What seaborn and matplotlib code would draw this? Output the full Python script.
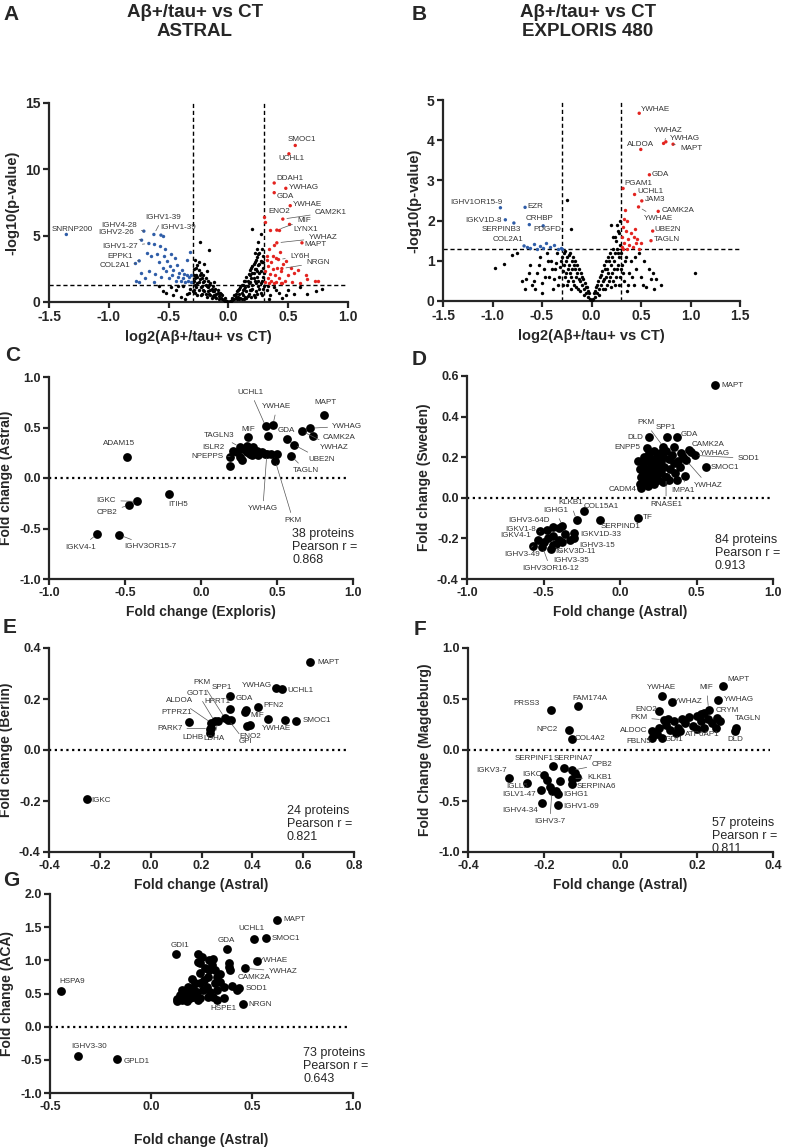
import seaborn as sns
import matplotlib.pyplot as plt
from matplotlib.ticker import FormatStrFormatter

# ---------------- A: volcano Astral ----------------
a_ns_x = [0.02, 0.03, 0.04, 0.05, 0.06, 0.07, 0.08, 0.08, 0.09, 0.10, 0.10, 0.11, 0.12, 0.12, 0.13, 0.14, 0.14, 0.15,
          0.15, 0.16, 0.17, 0.17, 0.18, 0.18, 0.19, 0.19, 0.20, 0.20, 0.21, 0.21, 0.22, 0.22, 0.23, 0.23, 0.24, 0.24,
          0.25, 0.25, 0.26, 0.26, 0.27, 0.27, 0.28, 0.28, 0.29, 0.29, 0.20, 0.25, 0.27, 0.29,
          0.01, 0.03, 0.05, 0.06, 0.07, 0.09, 0.09, 0.11, 0.11, 0.12, 0.13, 0.13, 0.14, 0.15, 0.16, 0.16, 0.17,
          0.18, 0.18, 0.19, 0.19, 0.20, 0.20, 0.21, 0.21, 0.22, 0.22, 0.23, 0.23, 0.24, 0.24, 0.25, 0.25, 0.26,
          0.26, 0.27, 0.27, 0.28, 0.28, 0.29, 0.29, 0.30, 0.30, 0.24, 0.22,
          0.32, 0.35, 0.38, 0.42, 0.45, 0.50, 0.55, 0.66, 0.73, 0.78, 0.60, 0.34, 0.33, 0.40, 0.48,
          -0.02, -0.03, -0.04, -0.05, -0.06, -0.07, -0.08, -0.09, -0.10, -0.10, -0.11, -0.12, -0.13, -0.13, -0.14,
          -0.15, -0.15, -0.16, -0.17, -0.17, -0.18, -0.19, -0.19, -0.20, -0.21, -0.21, -0.22, -0.23, -0.23, -0.24,
          -0.24, -0.25, -0.25, -0.26, -0.26, -0.27, -0.28, -0.28, -0.29, -0.29, -0.16, -0.20,
          -0.01, -0.03, -0.05, -0.06, -0.08, -0.09, -0.11, -0.12, -0.13, -0.14, -0.15, -0.16, -0.17, -0.18,
          -0.19, -0.20, -0.21, -0.22, -0.22, -0.23, -0.24, -0.25, -0.26, -0.26, -0.27, -0.27, -0.28, -0.28,
          -0.29, -0.29, -0.30, -0.30, -0.18, -0.25, -0.12,
          -0.32, -0.35, -0.38, -0.40, -0.44, -0.48, -0.52, -0.55, -0.36, -0.58, -0.33, -0.42, -0.46]
a_ns_y = [0.1, 0.3, 0.2, 0.5, 0.35, 0.8, 0.4, 0.9, 0.6, 1.1, 0.3, 0.7, 1.3, 0.5, 1.0, 1.6, 0.4, 0.8,
          1.9, 1.2, 2.1, 0.6, 1.5, 2.4, 0.9, 1.8, 2.7, 1.3, 0.5, 2.2, 3.0, 1.6, 2.5, 0.8, 3.4, 1.9,
          2.8, 1.2, 3.7, 2.2, 0.7, 3.1, 4.0, 1.6, 2.6, 3.5, 5.5, 4.5, 5.1, 1.0,
          0.05, 0.12, 0.2, 0.6, 0.25, 0.2, 1.0, 0.2, 1.3, 0.9, 0.25, 1.6, 1.1, 0.3, 1.6, 0.45, 1.4,
          0.9, 2.0, 0.35, 2.6, 1.0, 2.2, 1.8, 2.9, 0.4, 2.5, 1.4, 3.2, 0.6, 2.3, 1.6, 3.6, 1.0,
          2.9, 2.3, 1.4, 3.0, 0.5, 1.9, 3.0, 2.2, 1.2, 4.0, 3.7,
          0.9, 0.5, 1.1, 0.7, 0.3, 0.9, 0.6, 0.63, 0.8, 1.0, 1.1, 0.2, 1.2, 0.9, 0.5,
          0.1, 0.3, 0.15, 0.5, 0.3, 0.7, 0.45, 0.9, 0.3, 0.6, 1.0, 0.5, 1.2, 0.8, 0.3,
          1.4, 0.9, 0.6, 1.6, 1.1, 0.4, 1.8, 1.3, 0.8, 2.0, 1.5, 0.6, 2.2, 1.1, 1.7,
          4.5, 2.4, 0.9, 1.4, 2.8, 2.0, 0.7, 3.2, 1.6, 2.5, 3.9, 2.9,
          0.05, 0.1, 0.25, 0.6, 0.2, 0.7, 0.4, 0.85, 0.45, 1.0, 0.5, 1.3, 0.8, 1.2,
          0.6, 1.6, 0.9, 1.8, 1.2, 0.5, 2.0, 1.5, 0.5, 1.9, 1.1, 2.6, 1.8, 1.3,
          0.9, 2.0, 1.5, 0.8, 2.3, 3.0, 1.5,
          1.0, 0.6, 1.2, 0.4, 0.9, 1.1, 0.7, 0.83, 0.25, 1.2, 0.7, 1.2, 0.5]
a_up_x = [0.31, 0.31, 0.32, 0.32, 0.33, 0.33, 0.34, 0.34, 0.35, 0.35, 0.36, 0.36, 0.37, 0.37, 0.38, 0.38, 0.39,
          0.40, 0.40, 0.41, 0.42, 0.42, 0.43, 0.44, 0.45, 0.46, 0.47, 0.48, 0.50, 0.52, 0.53, 0.55, 0.58, 0.60,
          0.65, 0.66, 0.72, 0.75, 0.31, 0.44]
a_up_y = [1.5, 2.3, 3.2, 3.5, 1.8, 2.7, 1.4, 4.0, 2.1, 5.4, 3.0, 1.6, 2.5, 3.5, 1.4, 4.3, 2.0,
          3.3, 1.5, 2.6, 5.4, 1.8, 3.8, 2.3, 1.4, 2.9, 1.6, 3.1, 2.0, 2.6, 1.5, 2.2, 2.4, 1.4,
          2.0, 1.7, 1.6, 1.6, 6.0, 1.4]
a_down_x = [-0.31, -0.31, -0.32, -0.33, -0.34, -0.35, -0.36, -0.37, -0.38, -0.39, -0.40, -0.41, -0.42, -0.43,
            -0.44, -0.45, -0.46, -0.47, -0.48, -0.49, -0.50, -0.51, -0.52, -0.53, -0.54, -0.55, -0.56, -0.57,
            -0.58, -0.60, -0.61, -0.62, -0.65, -0.66, -0.68, -0.70, -0.73, -0.75, -0.77, -0.62, -0.35, -0.55]
a_down_y = [1.5, 2.0, 3.8, 1.9, 1.6, 2.0, 1.5, 2.1, 1.8, 2.4, 1.6, 2.2, 1.9, 2.8,
            1.6, 3.3, 2.4, 2.0, 3.6, 2.7, 1.8, 3.1, 2.3, 4.0, 3.5, 2.6, 1.9, 4.2,
            3.0, 3.6, 2.1, 4.4, 3.5, 2.3, 3.7, 1.8, 2.2, 1.5, 1.6, 1.5, 3.2, 5.0]
a_lab = ['SNRNP200', 'IGHV4-28', 'IGHV2-26', 'IGHV1-39', 'IGHV1-39', 'IGHV1-27', 'EPPK1', 'COL2A1',
         'SMOC1', 'UCHL1', 'DDAH1', 'YWHAG', 'GDA', 'YWHAE', 'ENO2', 'CAM2K1', 'MIF', 'LYNX1', 'YWHAZ',
         'MAPT', 'LY6H', 'NRGN']
a_lab_x = [-1.355, -0.707, -0.726, -0.623, -0.564, -0.665, -0.746, -0.777,
           0.559, 0.506, 0.383, 0.480, 0.383, 0.517, 0.302, 0.455, 0.405, 0.511, 0.405, 0.615, 0.419, 0.447]
a_lab_y = [5.09, 5.34, 4.66, 5.09, 5.04, 4.41, 3.10, 2.90,
           11.80, 11.17, 8.97, 8.57, 8.24, 7.26, 6.38, 6.25, 5.42, 5.85, 4.46, 4.46, 3.20, 2.52]

# ---------------- B: volcano Exploris ----------------
b_ns_x = [0.02, 0.03, 0.04, 0.05, 0.06, 0.07, 0.08, 0.09, 0.10, 0.11, 0.12, 0.13, 0.14, 0.15, 0.15, 0.16, 0.17,
          0.18, 0.19, 0.20, 0.21, 0.22, 0.23, 0.24, 0.25, 0.26, 0.27, 0.28, 0.29, 0.29, 0.22, 0.26, 0.31, 0.33,
          0.35, 0.38, 0.40, 0.43, 0.45, 0.50, 0.55, 0.58, 0.62, 0.65, 0.70, 0.63, 1.05, 0.48, 0.36, 0.53, 0.20,
          0.01, 0.04, 0.06, 0.08, 0.10, 0.12, 0.13, 0.14, 0.16, 0.17, 0.18, 0.19, 0.20, 0.21, 0.22, 0.23, 0.24,
          0.25, 0.26, 0.27, 0.28, 0.28, 0.29, 0.30, 0.30, 0.32, 0.34, 0.37, 0.41, 0.44, 0.52, 0.60, 0.24, 0.27,
          -0.02, -0.03, -0.04, -0.05, -0.06, -0.07, -0.08, -0.09, -0.10, -0.11, -0.12, -0.13, -0.14, -0.15,
          -0.16, -0.17, -0.18, -0.19, -0.20, -0.21, -0.22, -0.23, -0.24, -0.25, -0.26, -0.27, -0.28, -0.29,
          -0.31, -0.33, -0.35, -0.37, -0.39, -0.41, -0.43, -0.45, -0.48, -0.50, -0.52, -0.55, -0.60, -0.62,
          -0.66, -0.67, -0.75, -0.80, -0.88, -0.97, -0.58, -0.50, -0.25, -0.21,
          -0.01, -0.04, -0.06, -0.08, -0.10, -0.12, -0.13, -0.15, -0.16, -0.17, -0.18, -0.19, -0.20, -0.21,
          -0.22, -0.23, -0.24, -0.25, -0.26, -0.27, -0.28, -0.29, -0.30, -0.32, -0.34, -0.36, -0.38, -0.40,
          -0.44, -0.47, -0.53, -0.57, -0.63, -0.70]
b_ns_y = [0.05, 0.2, 0.1, 0.35, 0.2, 0.5, 0.3, 0.6, 0.4, 0.75, 0.5, 0.9, 0.3, 1.0, 0.6, 0.8, 1.1,
          0.5, 1.2, 0.9, 0.7, 1.3, 1.0, 0.4, 1.5, 0.8, 1.2, 1.7, 0.6, 2.0, 1.6, 1.9, 0.9, 0.5,
          1.1, 0.7, 1.0, 0.4, 0.8, 0.6, 0.35, 0.8, 0.7, 0.55, 0.4, 0.3, 0.7, 1.2, 0.25, 1.0, 1.89,
          0.03, 0.25, 0.4, 0.15, 0.65, 0.3, 0.55, 0.8, 0.4, 0.7, 1.0, 0.6, 0.35, 1.1, 0.5, 0.8, 1.2,
          0.6, 1.3, 0.9, 0.4, 1.1, 1.4, 0.8, 1.2, 0.7, 1.0, 0.4, 0.6, 1.1, 0.4, 0.55, 1.6, 1.75,
          0.05, 0.2, 0.1, 0.35, 0.2, 0.45, 0.3, 0.55, 0.4, 0.7, 0.5, 0.8, 0.3, 0.9,
          0.6, 1.0, 0.4, 1.1, 0.8, 0.6, 1.2, 0.9, 0.5, 1.1, 0.7, 1.25, 0.9, 0.4,
          1.0, 0.6, 1.2, 0.8, 0.3, 1.0, 0.6, 1.2, 0.8, 0.45, 1.1, 0.7, 0.4, 0.9,
          0.55, 0.3, 1.2, 1.15, 0.92, 0.83, 0.5, 0.2, 2.52, 1.80,
          0.03, 0.25, 0.35, 0.15, 0.6, 0.25, 0.55, 0.7, 0.35, 0.8, 0.9, 0.5, 1.0, 0.3,
          0.7, 1.15, 0.8, 0.4, 1.0, 0.6, 1.2, 0.75, 1.1, 0.85, 0.4, 0.95, 0.55, 0.8,
          1.0, 0.6, 0.9, 0.3, 0.7, 0.5]
b_up_x = [0.31, 0.31, 0.32, 0.33, 0.33, 0.34, 0.35, 0.36, 0.37, 0.38, 0.40, 0.42, 0.43, 0.44, 0.45, 0.46,
          0.48, 0.50, 0.32, 0.36]
b_up_y = [1.35, 1.6, 1.85, 2.05, 1.45, 2.27, 1.75, 1.3, 1.55, 1.4, 1.7, 1.35, 1.6, 1.8, 1.45, 1.55,
          1.3, 1.45, 1.3, 2.0]
b_down_x = [-0.31, -0.34, -0.38, -0.42, -0.46, -0.49, -0.52, -0.55, -0.58, -0.62, -0.65, -0.30]
b_down_y = [1.32, 1.30, 1.40, 1.35, 1.45, 1.32, 1.38, 1.30, 1.42, 1.32, 1.35, 1.30]
b_lab = ['YWHAE', 'YWHAZ', 'YWHAG', 'MAPT', 'ALDOA', 'GDA', 'PGAM1', 'UCHL1', 'JAM3', 'CAMK2A', 'YWHAE',
         'UBE2N', 'TAGLN', 'IGHV1OR15-9', 'EZR', 'IGKV1D-8', 'SERPINB3', 'CRHBP', 'PDGFD', 'COL2A1']
b_lab_x = [0.482, 0.728, 0.751, 0.824, 0.498, 0.585, 0.319, 0.435, 0.508, 0.674, 0.475, 0.618, 0.601,
           -0.920, -0.671, -0.870, -0.784, -0.628, -0.488, -0.681]
b_lab_y = [4.67, 3.92, 3.96, 3.90, 3.77, 3.14, 2.80, 2.65, 2.49, 2.23, 2.34, 1.74, 1.50,
           2.32, 2.33, 2.02, 1.94, 1.90, 1.87, 1.37]

# ---------------- C: Exploris vs Astral ----------------
c_lab = ['MAPT', 'YWHAG', 'CAMK2A', 'YWHAZ', 'GDA', 'UBE2N', 'TAGLN', 'UCHL1', 'YWHAE', 'MIF', 'TAGLN3',
         'ISLR2', 'NPEPPS', 'YWHAG', 'PKM', 'ADAM15', 'ITIH5', 'IGKC', 'CPB2', 'IGKV4-1', 'IGHV3OR15-7']
c_lab_x = [0.807, 0.719, 0.736, 0.664, 0.569, 0.609, 0.593, 0.426, 0.473, 0.312, 0.257, 0.213, 0.191, 0.433,
           0.488, -0.490, -0.211, -0.418, -0.473, -0.684, -0.538]
c_lab_y = [0.626, 0.493, 0.411, 0.464, 0.387, 0.331, 0.219, 0.510, 0.526, 0.404, 0.305, 0.272, 0.212, 0.238,
           0.172, 0.212, -0.156, -0.232, -0.268, -0.556, -0.563]
c_x = [0.191, 0.301, 0.345, 0.367, 0.400, 0.257, 0.268, 0.323, 0.301, 0.334, 0.459, 0.499, 0.440, 0.235,
       0.279, 0.378, 0.420]
c_y = [0.123, 0.321, 0.305, 0.272, 0.255, 0.205, 0.179, 0.238, 0.255, 0.232, 0.238, 0.238, 0.420, 0.255,
       0.288, 0.232, 0.240]

# ---------------- D: Astral vs Sweden ----------------
d_lab = ['MAPT', 'SMOC1', 'SOD1', 'YWHAG', 'CAMK2A', 'YWHAZ', 'IMPA1', 'GDA', 'SPP1', 'PKM', 'DLD', 'ENPP5',
         'CADM4', 'RNASE1', 'COL15A1', 'KLKB1', 'IGHG1', 'TF', 'SERPIND1', 'IGHV3-64D', 'IGKV1-8', 'IGKV4-1',
         'IGHV3-49', 'IGKV3D-11', 'IGHV3-35', 'IGHV3OR16-12', 'IGKV1D-33', 'IGHV3-15']
d_lab_x = [0.618, 0.563, 0.487, 0.465, 0.454, 0.432, 0.428, 0.371, 0.306, 0.284, 0.188, 0.175, 0.131, 0.301,
           -0.238, -0.284, -0.376, 0.116, -0.131, -0.437, -0.524, -0.539, -0.568, -0.452, -0.441, -0.507,
           -0.376, -0.299]
d_lab_y = [0.555, 0.152, 0.209, 0.226, 0.234, 0.185, 0.107, 0.300, 0.300, 0.251, 0.298, 0.246, 0.069, 0.102,
           -0.066, -0.109, -0.137, -0.099, -0.109, -0.145, -0.165, -0.208, -0.237, -0.254, -0.233, -0.241,
           -0.216, -0.200]
d_x = [0.13, 0.14, 0.15, 0.15, 0.16, 0.16, 0.17, 0.17, 0.18, 0.18, 0.19, 0.19, 0.20, 0.20, 0.21, 0.21, 0.22,
       0.22, 0.23, 0.23, 0.24, 0.24, 0.25, 0.25, 0.26, 0.26, 0.27, 0.27, 0.28, 0.28, 0.29, 0.30, 0.30, 0.32,
       0.33, 0.34, 0.35, 0.36, 0.37, 0.38, 0.39, 0.40, 0.41, 0.35, 0.14, 0.12, 0.32,
       -0.50, -0.47, -0.44, -0.42, -0.40, -0.36, -0.33, -0.30, -0.48, -0.40]
d_y = [0.14, 0.10, 0.17, 0.12, 0.08, 0.20, 0.14, 0.10, 0.18, 0.06, 0.12, 0.22, 0.16, 0.09, 0.19, 0.13, 0.07,
       0.23, 0.15, 0.11, 0.20, 0.17, 0.13, 0.09, 0.22, 0.16, 0.18, 0.12, 0.08, 0.20, 0.15, 0.23, 0.10, 0.19,
       0.14, 0.21, 0.17, 0.12, 0.09, 0.18, 0.15, 0.22, 0.20, 0.25, 0.05, 0.18, 0.09,
       -0.22, -0.20, -0.19, -0.23, -0.21, -0.18, -0.21, -0.175, -0.16, -0.15]

# ---------------- E: Astral vs Berlin ----------------
e_lab = ['MAPT', 'UCHL1', 'YWHAG', 'SMOC1', 'YWHAE', 'PFN2', 'GDA', 'MIF', 'ENO2', 'SPP1', 'HPRT1', 'PKM',
         'GOT1', 'ALDOA', 'PTPRZ1', 'PARK7', 'LDHB', 'LDHA', 'GPI', 'IGKC']
e_lab_x = [0.626, 0.515, 0.492, 0.570, 0.462, 0.423, 0.377, 0.370, 0.390, 0.314, 0.311, 0.292, 0.252, 0.239,
           0.151, 0.232, 0.232, 0.265, 0.305, -0.251]
e_lab_y = [0.344, 0.239, 0.243, 0.115, 0.122, 0.167, 0.156, 0.148, 0.099, 0.213, 0.161, 0.125, 0.112, 0.106,
           0.108, 0.084, 0.067, 0.112, 0.119, -0.193]
e_x = [0.528, 0.380, 0.318, 0.239]
e_y = [0.119, 0.095, 0.119, 0.086]

# ---------------- F: Astral vs Magdeburg ----------------
f_lab = ['MAPT', 'YWHAG', 'MIF', 'CRYM', 'TAGLN', 'DLD', 'YWHAE', 'YWHAZ', 'ENO2', 'PKM', 'ALDOC', 'FBLN5',
         'GDI1', 'ATP6AP1', 'PRSS3', 'FAM174A', 'NPC2', 'COL4A2', 'IGKV3-7', 'IGLL5', 'IGKC', 'IGLV1-47',
         'IGHV4-34', 'SERPINF1', 'SERPINA7', 'CPB2', 'KLKB1', 'SERPINA6', 'IGHG1', 'IGHV1-69', 'IGHV3-7']
f_lab_x = [0.270, 0.257, 0.231, 0.252, 0.303, 0.300, 0.108, 0.134, 0.102, 0.113, 0.082, 0.082, 0.108, 0.156,
           -0.181, -0.112, -0.134, -0.128, -0.293, -0.245, -0.200, -0.209, -0.206, -0.178, -0.148, -0.128,
           -0.128, -0.126, -0.165, -0.165, -0.180]
f_lab_y = [0.624, 0.493, 0.395, 0.314, 0.216, 0.183, 0.533, 0.467, 0.379, 0.297, 0.183, 0.118, 0.118, 0.183,
           0.389, 0.428, 0.193, 0.111, -0.278, -0.324, -0.248, -0.395, -0.520, -0.160, -0.176, -0.200,
           -0.280, -0.330, -0.428, -0.542, -0.400]
f_x = [0.12, 0.13, 0.14, 0.15, 0.16, 0.17, 0.18, 0.19, 0.20, 0.21, 0.21, 0.22, 0.22, 0.23, 0.24, 0.25, 0.26,
       0.095, 0.10, 0.125, 0.145, 0.20, -0.193, -0.185, -0.17, -0.16, -0.12, -0.115]
f_y = [0.25, 0.20, 0.28, 0.22, 0.30, 0.26, 0.32, 0.24, 0.33, 0.28, 0.35, 0.22, 0.36, 0.30, 0.26, 0.22, 0.28,
       0.16, 0.22, 0.30, 0.17, 0.21, -0.29, -0.36, -0.40, -0.30, -0.23, -0.26]

# ---------------- G: Astral vs ACA ----------------
g_lab = ['MAPT', 'SMOC1', 'UCHL1', 'GDA', 'GDI1', 'YWHAE', 'YWHAZ', 'CAMK2A', 'SOD1', 'NRGN', 'HSPE1',
         'HSPA9', 'IGHV3-30', 'GPLD1']
g_lab_x = [0.622, 0.568, 0.512, 0.378, 0.122, 0.523, 0.465, 0.388, 0.436, 0.454, 0.361, -0.447, -0.360, -0.167]
g_lab_y = [1.608, 1.342, 1.322, 1.171, 1.090, 0.995, 0.879, 0.905, 0.578, 0.342, 0.437, 0.538, -0.442, -0.487]
g_x = [0.234, 0.251, 0.234, 0.289, 0.309, 0.300, 0.317, 0.289, 0.243, 0.388, 0.391, 0.201, 0.243, 0.284,
       0.325, 0.342, 0.361, 0.399, 0.317, 0.276, 0.177, 0.152, 0.193, 0.226, 0.259, 0.292, 0.284, 0.309,
       0.243, 0.210, 0.168, 0.127, 0.127, 0.152, 0.177, 0.234, 0.193, 0.328, 0.262, 0.342, 0.218, 0.168,
       0.144, 0.243, 0.267, 0.210, 0.325, 0.424, 0.185]
g_y = [1.095, 1.055, 0.970, 1.005, 1.015, 0.930, 0.854, 0.854, 0.804, 0.955, 0.854, 0.714, 0.653, 0.754,
       0.754, 0.678, 0.593, 0.613, 0.653, 0.603, 0.553, 0.553, 0.503, 0.528, 0.553, 0.528, 0.452, 0.452,
       0.427, 0.452, 0.427, 0.412, 0.392, 0.402, 0.392, 0.402, 0.427, 0.553, 0.704, 0.794, 0.653, 0.477,
       0.477, 0.955, 0.879, 0.578, 0.402, 0.553, 0.603]

n_prot = [38, 84, 24, 57, 73]
pearson = [0.868, 0.913, 0.821, 0.811, 0.643]

# label offsets in pixels (dx, dy, leader line)
a_off = [(6, 5, 0), (-25, 6, 1), (-25, 8, 1), (9, 17, 1), (17, 8, 0), (-29, -3, 1), (-19, 4, 1), (-20, -2, 1),
         (7, 6, 0), (3, -5, 0), (16, 4, 0), (18, 1, 0), (11, -4, 0), (17, 1, 0), (15, 6, 0), (48, 7, 1),
         (27, 10, 1), (16, -5, 0), (46, 5, 1), (14, -2, 0), (21, 3, 1), (36, 6, 1)]
b_off = [(16, 4, 0), (5, 13, 1), (19, 3, 0), (18, -4, 1), (0, 5, 0), (11, 0, 0), (15, 5, 0), (16, 3, 0),
         (13, 1, 0), (20, 1, 0), (20, -12, 1), (15, 2, 0), (16, 1, 0), (-24, 5, 0), (10, 1, 0), (-22, -1, 0),
         (-13, -6, 0), (10, 6, 0), (4, -4, 0), (-16, 6, 0)]
c_off = [(2, 12, 0), (37, 2, 1), (26, -1, 1), (32, -16, 1), (-1, 8, 0), (28, -15, 1), (15, -15, 1),
         (-15, 34, 1), (4, 18, 1), (0, 8, 0), (-21, 12, 1), (-20, 3, 1), (-23, 0, 1), (-4, -55, 1),
         (18, -60, 1), (-7, 13, 0), (9, -11, 0), (-31, 1, 1), (-22, -7, 1), (-16, -13, 1), (31, -12, 1)]
d_off = [(18, 0, 0), (19, -1, 0), (54, -3, 1), (24, -2, 0), (19, 6, 0), (22, -25, 1), (-3, -14, 1), (13, 2, 0),
         (-1, 9, 0), (-18, 24, 1), (-13, 0, 0), (-19, 0, 0), (-17, -6, 0), (0, -27, 1), (18, 5, 0), (-6, 17, 1),
         (-7, 15, 1), (10, 0, 0), (21, -7, 0), (-24, 7, 0), (-19, 2, 1), (-22, 5, 0), (-11, -9, 1), (25, -2, 0),
         (19, -15, 1), (8, -22, 1), (38, 7, 0), (23, -7, 0)]
e_off = [(19, 0, 0), (19, -1, 0), (-19, 3, 0), (21, 0, 0), (8, -10, 0), (15, 2, 0), (-2, 12, 0), (13, -3, 0),
         (0, -12, 0), (-9, 8, 0), (-12, 7, 0), (-23, 36, 1), (-17, 28, 1), (-32, 22, 1), (-12, 10, 0),
         (-40, 0, 1), (-17, -5, 0), (-4, -17, 1), (17, -22, 1), (14, -1, 0)]
f_off = [(15, 7, 0), (20, 0, 0), (-2, 22, 1), (11, 7, 0), (12, 9, 0), (0, -8, 0), (0, 8, 0), (17, 1, 0),
         (-13, 2, 0), (-25, 2, 1), (-18, 1, 0), (-13, -4, 0), (12, -2, 0), (22, -3, 0), (-25, 7, 0),
         (12, 8, 0), (-22, 1, 0), (18, 0, 0), (-17, 8, 0), (-10, -3, 0), (-12, 1, 0), (-22, -4, 0),
         (-22, -7, 0), (-19, 8, 0), (9, 9, 0), (30, 6, 1), (28, 1, 1), (24, -3, 0), (18, -1, 0), (24, -1, 0),
         (-2, -31, 1)]
g_off = [(18, 1, 0), (20, -1, 0), (-3, 10, 0), (-1, 8, 0), (4, 9, 0), (17, 0, 0), (38, -3, 1), (25, -11, 0),
         (17, 0, 0), (17, -1, 0), (0, -11, 0), (11, 9, 0), (11, 9, 0), (19, -3, 0)]

# ---------------- figure ----------------
sns.set_style('ticks')
plt.rcParams['font.family'] = ['Liberation Sans', 'DejaVu Sans']
plt.rcParams['font.weight'] = 'bold'
plt.rcParams['axes.unicode_minus'] = False

W, H = 785, 1148
fig = plt.figure(figsize=(W / 100, H / 100), dpi=100)
fig.patch.set_facecolor('white')


def box(l, t, r, b):
    return fig.add_axes([l / W, 1 - b / H, (r - l) / W, (b - t) / H])


def frame(ax, xlim, ylim, xt, yt, xlab, ylab, fmt='%.1f', yfmt='%.1f', tsize=9, lsize=10):
    ax.set_xlim(xlim)
    ax.set_ylim(ylim)
    ax.set_xticks(xt)
    ax.set_yticks(yt)
    ax.xaxis.set_major_formatter(FormatStrFormatter(fmt))
    ax.yaxis.set_major_formatter(FormatStrFormatter(yfmt))
    sns.despine(ax=ax)
    for sp in ['left', 'bottom']:
        ax.spines[sp].set_linewidth(1.6)
    ax.tick_params(width=1.6, length=4, labelsize=tsize, pad=2)
    ax.set_xlabel(xlab, fontsize=lsize, fontweight='bold')
    ax.set_ylabel(ylab, fontsize=lsize, fontweight='bold')
    ax.set_facecolor('white')


def dots(ax, x, y, color, s):
    sns.scatterplot(x=x, y=y, ax=ax, color=color, s=s, linewidth=0, legend=False, zorder=3)


def tag(ax, names, xs, ys, offs, fs=5.8):
    for n, x, y, (dx, dy, ln) in zip(names, xs, ys, offs):
        ax.annotate(n, (x, y), xytext=(dx, dy), textcoords='offset pixels', ha='center', va='center',
                    fontsize=fs, fontweight='normal', color='#333333', zorder=5,
                    arrowprops=dict(arrowstyle='-', color='#555555', lw=0.5, shrinkA=1, shrinkB=3) if ln else None)


def stats(ax, i, xf, yf):
    ax.text(xf, yf, f'{n_prot[i]} proteins\nPearson r =\n{pearson[i]:.3f}', transform=ax.transAxes,
            ha='left', va='top', fontsize=9, fontweight='normal', linespacing=1.1)


def volcano(ax, nsx, nsy, upx, upy, dnx, dny, lx, ly):
    for v in (-0.3, 0.3):
        ax.axvline(v, ls='--', lw=1, color='black', dashes=(3, 2))
    ax.axhline(1.3, ls='--', lw=1, color='black', dashes=(3, 2))
    dots(ax, nsx, nsy, 'black', 6)
    dots(ax, upx, upy, RED, 6)
    dots(ax, dnx, dny, BLUE, 6)
    sns.scatterplot(x=lx, y=ly, ax=ax, hue=['u' if v > 0 else 'd' for v in lx],
                    palette={'u': RED, 'd': BLUE}, s=6, linewidth=0, legend=False, zorder=3)


RED, BLUE = '#e3231f', '#2f5da8'

# A
ax = box(49, 103, 348, 302)
volcano(ax, a_ns_x, a_ns_y, a_up_x, a_up_y, a_down_x, a_down_y, a_lab_x, a_lab_y)
tag(ax, a_lab, a_lab_x, a_lab_y, a_off)
frame(ax, (-1.5, 1.0), (0, 15), [-1.5, -1.0, -0.5, 0.0, 0.5, 1.0], [0, 5, 10, 15],
      'log2(Aβ+/tau+ vs CT)', '-log10(p-value)', yfmt='%d', tsize=10, lsize=10.5)

# B
ax = box(443, 100, 740, 301)
volcano(ax, b_ns_x, b_ns_y, b_up_x, b_up_y, b_down_x, b_down_y, b_lab_x, b_lab_y)
tag(ax, b_lab, b_lab_x, b_lab_y, b_off)
frame(ax, (-1.5, 1.5), (0, 5), [-1.5, -1.0, -0.5, 0.0, 0.5, 1.0, 1.5], [0, 1, 2, 3, 4, 5],
      'log2(Aβ+/tau+ vs CT)', '-log10(p-value)', yfmt='%d', tsize=10, lsize=10.5)

S = 40
# C
ax = box(49, 377, 353, 579)
ax.axhline(0, xmin=0, xmax=0.985, ls=(0, (1, 1.6)), lw=1.6, color='black')
dots(ax, c_x, c_y, 'black', S)
dots(ax, c_lab_x, c_lab_y, 'black', S)
tag(ax, c_lab, c_lab_x, c_lab_y, c_off)
frame(ax, (-1, 1), (-1, 1), [-1.0, -0.5, 0.0, 0.5, 1.0], [-1.0, -0.5, 0.0, 0.5, 1.0],
      'Fold change (Exploris)', 'Fold change (Astral)')
stats(ax, 0, 0.80, 0.25)

# D
ax = box(467, 376, 773, 579)
ax.axhline(0, xmin=0, xmax=0.99, ls=(0, (1, 1.6)), lw=1.6, color='black')
dots(ax, d_x, d_y, 'black', S)
dots(ax, d_lab_x, d_lab_y, 'black', S)
tag(ax, d_lab, d_lab_x, d_lab_y, d_off)
frame(ax, (-1, 1), (-0.4, 0.6), [-1.0, -0.5, 0.0, 0.5, 1.0], [-0.4, -0.2, 0.0, 0.2, 0.4, 0.6],
      'Fold change (Astral)', 'Fold change (Sweden)')
stats(ax, 1, 0.81, 0.22)

# E
ax = box(49, 648, 354, 852)
ax.axhline(0, xmin=0, xmax=0.985, ls=(0, (1, 1.6)), lw=1.6, color='black')
dots(ax, e_x, e_y, 'black', S)
dots(ax, e_lab_x, e_lab_y, 'black', S)
tag(ax, e_lab, e_lab_x, e_lab_y, e_off)
frame(ax, (-0.4, 0.8), (-0.4, 0.4), [-0.4, -0.2, 0.0, 0.2, 0.4, 0.6, 0.8], [-0.4, -0.2, 0.0, 0.2, 0.4],
      'Fold change (Astral)', 'Fold change (Berlin)')
stats(ax, 2, 0.78, 0.23)

# F
ax = box(468, 648, 773, 852)
ax.axhline(0, xmin=0, xmax=0.99, ls=(0, (1, 1.6)), lw=1.6, color='black')
dots(ax, f_x, f_y, 'black', S)
dots(ax, f_lab_x, f_lab_y, 'black', S)
tag(ax, f_lab, f_lab_x, f_lab_y, f_off)
frame(ax, (-0.4, 0.4), (-1, 1), [-0.4, -0.2, 0.0, 0.2, 0.4], [-1.0, -0.5, 0.0, 0.5, 1.0],
      'Fold change (Astral)', 'Fold Change (Magdeburg)')
stats(ax, 3, 0.80, 0.17)

# G
ax = box(50, 894, 353, 1093)
ax.axhline(0, xmin=0, xmax=0.985, ls=(0, (1, 1.6)), lw=1.6, color='black')
dots(ax, g_x, g_y, 'black', S)
dots(ax, g_lab_x, g_lab_y, 'black', S)
tag(ax, g_lab, g_lab_x, g_lab_y, g_off)
frame(ax, (-0.5, 1.0), (-1, 2), [-0.5, 0.0, 0.5, 1.0], [-1.0, -0.5, 0.0, 0.5, 1.0, 1.5, 2.0],
      'Fold change (Astral)', 'Fold change (ACA)')
ax.xaxis.labelpad = 14
stats(ax, 4, 0.835, 0.23)

# titles and panel letters
for cx, t in [(195, 'Aβ+/tau+ vs CT\nASTRAL'), (588, 'Aβ+/tau+ vs CT\nEXPLORIS 480')]:
    fig.text(cx / W, 1 - 4 / H, t, ha='center', va='top', fontsize=13.5, fontweight='bold', linespacing=1.15)
for lx, ly, l in [(3, 5, 'A'), (412, 5, 'B'), (5, 346, 'C'), (412, 350, 'D'), (3, 618, 'E'),
                  (414, 620, 'F'), (3, 871, 'G')]:
    fig.text(lx / W, 1 - ly / H, l, ha='left', va='top', fontsize=15, fontweight='bold')

fig.savefig('out.png', dpi=100, facecolor='white')
